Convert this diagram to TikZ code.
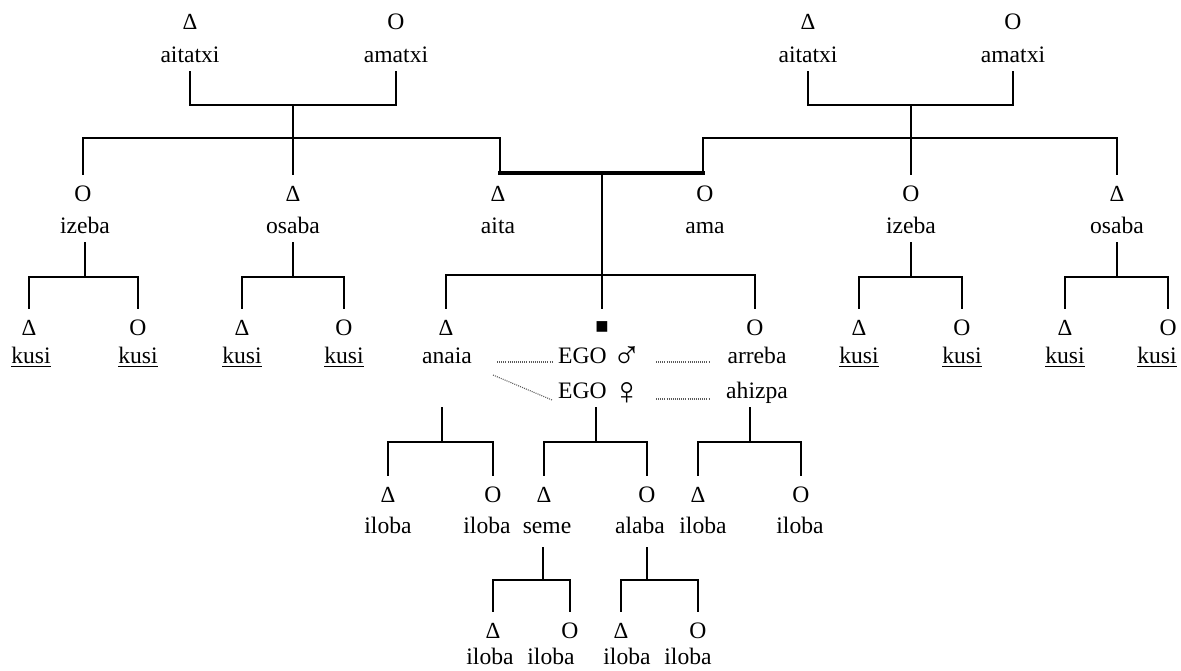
\documentclass[tikz,border=0pt]{standalone}
\usepackage{fontspec}
\setmainfont{Liberation Serif}
\newcommand\tri{{\fontsize{11.5}{12}\selectfont Δ}}
\newcommand\egosq{{\fontsize{11}{12}\selectfont ■}}
\newcommand\mars{\raisebox{-2.3pt}{\fontsize{19.5}{20}\selectfont ♂}}
\newcommand\venus{\raisebox{-3pt}{\fontsize{19.5}{20}\selectfont ♀}}
\newcommand\ulk[1]{\setbox0\hbox{#1}\rlap{\rule[-1.8pt]{\wd0}{0.7pt}}\box0}
\begin{document}
\begin{tikzpicture}[x=0.5pt,y=-0.5pt,
  ln/.style={line width=1pt,line cap=rect},
  marr/.style={line width=1.6pt,line cap=rect},
  dots/.style={line width=0.55pt,black!65,dash pattern=on 0.5pt off 0.55pt},
  sym/.style={inner sep=0pt,minimum height=20pt,font=\fontsize{11.8}{12}\selectfont},
  lbl/.style={inner sep=0pt,minimum height=15pt,text height=8pt,text depth=2.5pt,font=\fontsize{11.8}{12}\selectfont}]
\useasboundingbox (0,0) rectangle (1181,670);
% ---- row 1: grandparents
\node[sym] (gfL) at (190,22) {\tri};
\node[lbl] (gfLl) at (190,57) {aitatxi};
\node[sym] (gmL) at (396,22) {O};
\node[lbl] (gmLl) at (396,57) {amatxi};
\node[sym] (gfR) at (808,22) {\tri};
\node[lbl] (gfRl) at (808,57) {aitatxi};
\node[sym] (gmR) at (1013,22) {O};
\node[lbl] (gmRl) at (1013,57) {amatxi};
% ---- row 2
\node[sym] (izL) at (83,194) {O};
\node[lbl] (izLl) at (85,228) {izeba};
\node[sym] (osL) at (293,194) {\tri};
\node[lbl] (osLl) at (293,228) {osaba};
\node[sym] (aita) at (498,194) {\tri};
\node[lbl] (aital) at (498,228) {aita};
\node[sym] (ama) at (705,194) {O};
\node[lbl] (amal) at (705,228) {ama};
\node[sym] (izR) at (911,194) {O};
\node[lbl] (izRl) at (911,228) {izeba};
\node[sym] (osR) at (1117,194) {\tri};
\node[lbl] (osRl) at (1117,228) {osaba};
% ---- row 3
\node[sym] (k1) at (29,328) {\tri};
\node[lbl] (k1l) at (31,358) {\ulk{kusi}};
\node[sym] (k2) at (138,328) {O};
\node[lbl] (k2l) at (138,358) {\ulk{kusi}};
\node[sym] (k3) at (242,328) {\tri};
\node[lbl] (k3l) at (242,358) {\ulk{kusi}};
\node[sym] (k4) at (344,328) {O};
\node[lbl] (k4l) at (344,358) {\ulk{kusi}};
\node[sym] (anS) at (446,328) {\tri};
\node[lbl] (anaia) at (447,358) {anaia};
\node[sym] (egoS) at (602,328) {\egosq};
\node[lbl] (egoM) at (600,358) {EGO \mars};
\node[lbl] (egoF) at (600,393) {EGO \venus};
\node[sym] (arS) at (755,328) {O};
\node[lbl] (arreba) at (757,358) {arreba};
\node[lbl] (ahizpa) at (757,393) {ahizpa};
\node[sym] (k5) at (859,328) {\tri};
\node[lbl] (k5l) at (859,358) {\ulk{kusi}};
\node[sym] (k6) at (962,328) {O};
\node[lbl] (k6l) at (962,358) {\ulk{kusi}};
\node[sym] (k7) at (1065,328) {\tri};
\node[lbl] (k7l) at (1065,358) {\ulk{kusi}};
\node[sym] (k8) at (1168,328) {O};
\node[lbl] (k8l) at (1157,358) {\ulk{kusi}};
% ---- row 4
\node[sym] (i1) at (388,495) {\tri};
\node[lbl] (i1l) at (388,528) {iloba};
\node[sym] (i2) at (493,495) {O};
\node[lbl] (i2l) at (487,528) {iloba};
\node[sym] (seS) at (544,495) {\tri};
\node[lbl] (seme) at (547,528) {seme};
\node[sym] (alS) at (647,495) {O};
\node[lbl] (alaba) at (640,528) {alaba};
\node[sym] (i3) at (698,495) {\tri};
\node[lbl] (i3l) at (703,528) {iloba};
\node[sym] (i4) at (801,495) {O};
\node[lbl] (i4l) at (800,528) {iloba};
% ---- row 5
\node[sym] (i5) at (493,631) {\tri};
\node[lbl] (i5l) at (490,659) {iloba};
\node[sym] (i6) at (570,631) {O};
\node[lbl] (i6l) at (551,659) {iloba};
\node[sym] (i7) at (621,631) {\tri};
\node[lbl] (i7l) at (627,659) {iloba};
\node[sym] (i8) at (698,631) {O};
\node[lbl] (i8l) at (688,659) {iloba};
% ---- junction coordinates
\coordinate (pL) at (293,105);
\coordinate (sL) at (293,138);
\coordinate (pR) at (911,105);
\coordinate (sR) at (911,138);
\coordinate (mL) at (500,173);
\coordinate (mR) at (703,173);
\coordinate (mC) at (602,173);
\coordinate (sC) at (602,275);
\coordinate (c1) at (85,277);
\coordinate (c2) at (293,277);
\coordinate (c3) at (911,277);
\coordinate (c4) at (1117,277);
\coordinate (anD) at (442,408);
\coordinate (c5) at (442,442);
\coordinate (c6) at (596,442);
\coordinate (c7) at (750,442);
\coordinate (c8) at (543,580);
\coordinate (c9) at (647,580);
% ---- connectors
\draw[ln] (gfLl.south) |- (pL) -| (gmLl.south);
\draw[ln] (pL) -- (sL);
\draw[ln] (izL.north) |- (sL) -| (osL.north);
\draw[ln] (sL) -| (mL);
\draw[marr] (mL) -- (mR);
\draw[ln] (mR) |- (sR);
\draw[ln] (izR.north) |- (sR) -| (osR.north);
\draw[ln] (gfRl.south) |- (pR) -| (gmRl.south);
\draw[ln] (pR) -- (sR);
\draw[ln] (mC) -- (sC);
\draw[ln] (anS.north) |- (sC) -| (arS.north);
\draw[ln] (sC) -- (egoS.north);
\draw[ln] (izLl.south) -- (c1);
\draw[ln] (k1.north) |- (c1) -| (k2.north);
\draw[ln] (osLl.south) -- (c2);
\draw[ln] (k3.north) |- (c2) -| (k4.north);
\draw[ln] (izRl.south) -- (c3);
\draw[ln] (k5.north) |- (c3) -| (k6.north);
\draw[ln] (osRl.south) -- (c4);
\draw[ln] (k7.north) |- (c4) -| (k8.north);
\draw[ln] (anD) -- (c5);
\draw[ln] (i1.north) |- (c5) -| (i2.north);
\draw[ln] (c6 |- egoF.south) -- (c6);
\draw[ln] (seS.north) |- (c6) -| (alS.north);
\draw[ln] (c7 |- ahizpa.south) -- (c7);
\draw[ln] (i3.north) |- (c7) -| (i4.north);
\draw[ln,shorten <=2.5pt] (c8 |- seme.south) -- (c8);
\draw[ln] (i5.north) |- (c8) -| (i6.north);
\draw[ln,shorten <=2.5pt] (c9 |- alaba.south) -- (c9);
\draw[ln] (i7.north) |- (c9) -| (i8.north);
% ---- dotted equivalence lines
\draw[dots] ([xshift=25pt,yshift=-2pt]anaia.center) -- ([xshift=-24pt,yshift=-2pt]egoM.center);
\draw[dots] ([xshift=28pt,yshift=-2pt]egoM.center) -- ([xshift=-23.5pt,yshift=-2pt]arreba.center);
\draw[dots] ([xshift=23pt,yshift=-8.5pt]anaia.center) -- ([xshift=-24pt,yshift=-3.5pt]egoF.center);
\draw[dots] ([xshift=28pt,yshift=-3pt]egoF.center) -- ([xshift=-23.5pt,yshift=-3pt]ahizpa.center);
\end{tikzpicture}
\end{document}
